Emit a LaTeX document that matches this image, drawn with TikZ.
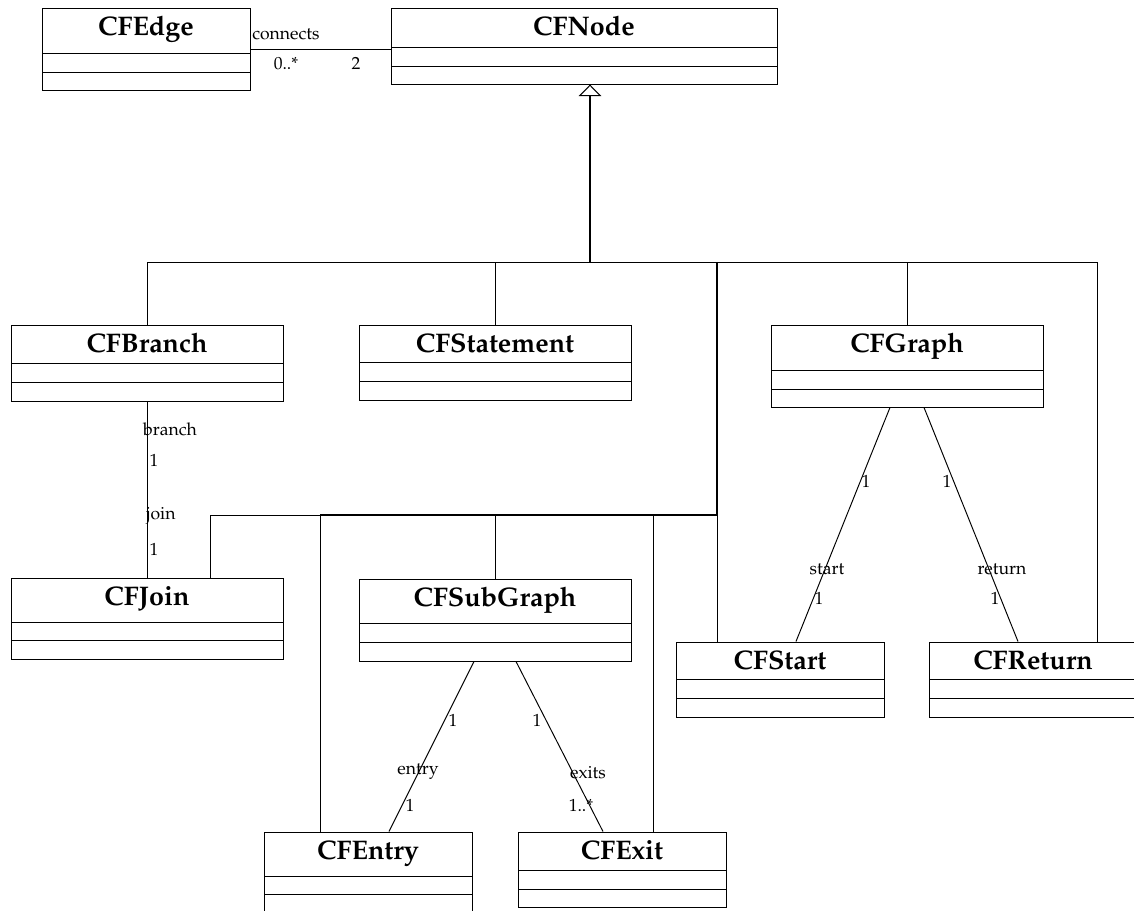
\documentclass[tikz,border=0pt]{standalone}
\usepackage[T1]{fontenc}
\renewcommand{\rmdefault}{ppl}
\usetikzlibrary{calc,fit,arrows.meta}

\tikzset{
  classbox/.style={draw, line width=0.55pt, inner sep=0pt},
  classline/.style={line width=0.55pt},
  classtitle/.style={anchor=base, inner sep=0pt, font=\fontsize{15.3}{18}\selectfont\bfseries},
  lbl/.style={anchor=base, inner sep=0pt, font=\fontsize{10}{12}\selectfont},
  genline/.style={line width=0.55pt},
  trunk/.style={line width=1.1pt},
  assoc/.style={line width=0.55pt},
}

% class box: name, left, top, right, first rule, second rule, bottom, title
\newcommand\umlclass[8]{%
  \node[classbox, fit={(#2,#3) (#4,#7)}] (#1) {};
  \draw[classline] (#2,#5) -- (#4,#5) (#2,#6) -- (#4,#6);
  \node[classtitle] (#1-title) at ({(#2+#4)/2},{#3+28}) {#8};
}

\begin{document}
\begin{tikzpicture}[x=0.02cm, y=-0.02cm]
\useasboundingbox (0,0) rectangle (1134,911);
\clip (0,0) rectangle (1134,911);

% classes
\umlclass{edge}{42}{8}{250}{53}{72}{90}{CFEdge}
\umlclass{cfnode}{391}{8}{777}{47}{66}{84}{CFNode}
\umlclass{branch}{11}{325}{283}{363}{382}{401}{CFBranch}
\umlclass{stmt}{359}{325}{631}{362}{381}{400}{CFStatement}
\umlclass{graph}{771}{325}{1043}{370}{389}{407}{CFGraph}
\umlclass{join}{11}{578}{283}{622}{640}{659}{CFJoin}
\umlclass{subgraph}{359}{579}{631}{623}{642}{661}{CFSubGraph}
\umlclass{start}{676}{642}{884}{679}{698}{717}{CFStart}
\umlclass{return}{929}{642}{1137}{679}{698}{717}{CFReturn}
\umlclass{entry}{264}{832}{472}{876}{894}{913}{CFEntry}
\umlclass{exit}{518}{832}{726}{870}{889}{907}{CFExit}

% junction points of the inheritance tree
\coordinate (apex) at (590,262);
\coordinate (rdrop) at (1097,262);
\coordinate (sdrop) at (717,262);
\coordinate (jbus) at (717,515);
\coordinate (jdrop) at (210,515);
\coordinate (edrop) at (320,515);
\coordinate (xdrop) at (653,515);

% generalization to CFNode
\draw[trunk, -{Triangle[open, length=6.6pt, width=12.8pt, line width=0.6pt]}] (apex) -- (apex |- cfnode.south);
\draw[genline] (branch.north) |- (rdrop) -- (rdrop |- return.north);
\draw[genline] (stmt.north) -- (stmt.north |- apex);
\draw[genline] (graph.north) -- (graph.north |- apex);
\draw[trunk] (sdrop) -- (jbus) -- (edrop);
\draw[genline] (edrop) -- (jdrop) -- (jdrop |- join.north);
\draw[genline] (edrop) -- (edrop |- entry.north);
\draw[genline] (subgraph.north |- jbus) -- (subgraph.north);
\draw[genline] (xdrop) -- (xdrop |- exit.north);
\draw[genline] (jbus) -- (jbus |- start.north);

% associations
\draw[assoc] (edge.east) -- (edge.east -| cfnode.west);
\draw[assoc] (branch.south) -- (join.north);
\draw[assoc] ($(graph.south)+(-17,0)$) -- ($(start.north)+(16,0)$);
\draw[assoc] ($(graph.south)+(17,0)$) -- ($(return.north)+(-15,0)$);
\draw[assoc] ($(subgraph.south)+(-21,0)$) -- ($(entry.north)+(21,0)$);
\draw[assoc] ($(subgraph.south)+(21,0)$) -- ($(exit.north)+(-19,0)$);

% association labels
\node[lbl, anchor=base west] (l-connects) at (252,40) {connects};
\node[lbl] (l-edgemult) at (286,70) {0..*};
\node[lbl] (l-nodemult) at (356,70) {2};
\node[lbl] (l-branch) at (170,436) {branch};
\node[lbl] (l-branchm) at (154,467) {1};
\node[lbl] (l-join) at (161,520) {join};
\node[lbl] (l-joinm) at (154,556) {1};
\node[lbl] (l-gs1) at (866,488) {1};
\node[lbl] (l-start) at (827,575) {start};
\node[lbl] (l-gs2) at (819,605) {1};
\node[lbl] (l-gr1) at (947,488) {1};
\node[lbl] (l-return) at (1002,575) {return};
\node[lbl] (l-gr2) at (995,605) {1};
\node[lbl] (l-se1) at (453,727) {1};
\node[lbl] (l-entry) at (418,775) {entry};
\node[lbl] (l-se2) at (410,812) {1};
\node[lbl] (l-sx1) at (537,727) {1};
\node[lbl] (l-exits) at (588,779) {exits};
\node[lbl] (l-sx2) at (581,812) {1..*};
\end{tikzpicture}
\end{document}
